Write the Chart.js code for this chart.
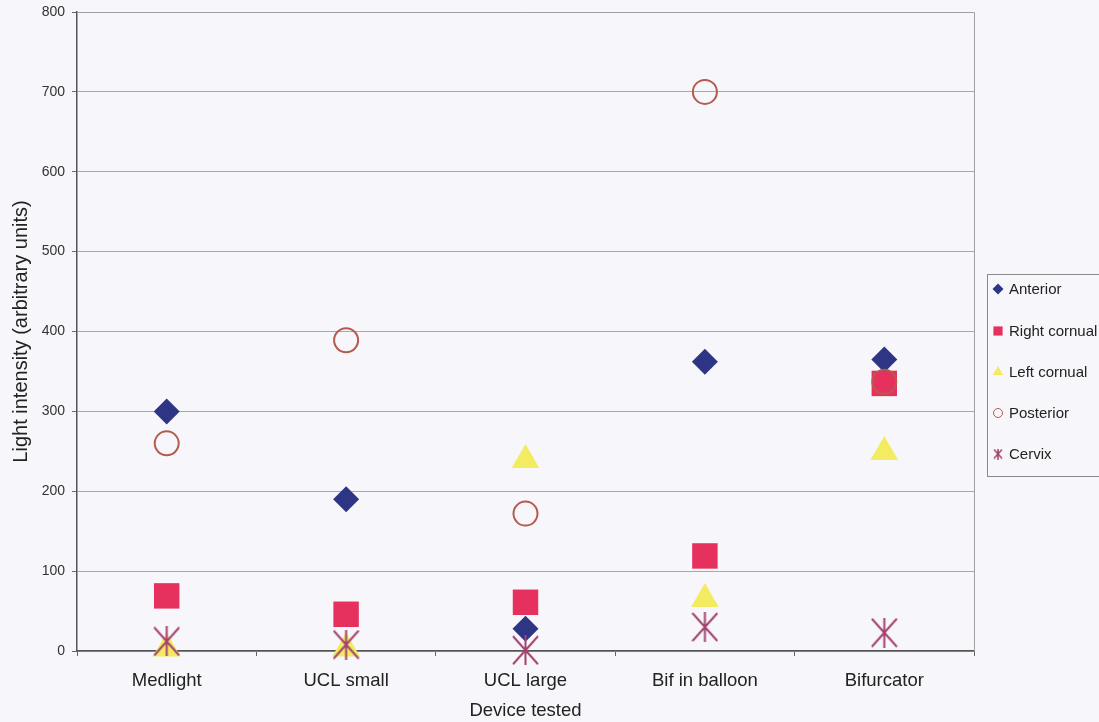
<!DOCTYPE html>
<html>
<head>
<meta charset="utf-8">
<script src="https://cdn.jsdelivr.net/npm/chart.js@4"></script>
<style>
  html, body { margin: 0; padding: 0; background: #f7f7fb; }
  #wrap { width: 1099px; height: 722px; position: relative; }
</style>
</head>
<body>
<div id="wrap"><canvas id="lightChart"></canvas></div>
<script>
// Data
const devices = ['Medlight', 'UCL small', 'UCL large', 'Bif in balloon', 'Bifurcator'];
const anterior = [300, 190, 28, 362, 365];
const rightCornual = [69, 46, 61, 119, 335];
const leftCornual = [3, 3, 239, 65, 249];
const posterior = [260, 389, 172, 700, 337];
const cervix = [12, 8, 1, 30, 23];
const yTicks = [0, 100, 200, 300, 400, 500, 600, 700, 800];

const FONT = '"Liberation Sans", Arial, sans-serif';

// asterisk marker (X with a vertical bar), like the Excel one
function makeAsterisk(w, h, color, lw) {
    const c = document.createElement('canvas');
    c.width = w; c.height = h;
    const g = c.getContext('2d');
    g.strokeStyle = color;
    g.lineWidth = lw;
    g.beginPath();
    g.moveTo(1, 1); g.lineTo(w - 1, h - 1);
    g.moveTo(w - 1, 1); g.lineTo(1, h - 1);
    g.moveTo(w / 2, 0); g.lineTo(w / 2, h);
    g.stroke();
    return c;
}
const cervixColor = '#a3416f';
const starBig = makeAsterisk(27, 30, cervixColor, 2);
const starSmall = makeAsterisk(10, 11, cervixColor, 1.5);

// Legend drawn in a box to the right, Excel style
const boxLegend = {
    id: 'boxLegend',
    afterDraw(chart) {
        const ctx = chart.ctx;
        const x0 = 987, y0 = 274, w = 130, h = 202;
        ctx.save();
        ctx.strokeStyle = '#8a8a8a';
        ctx.lineWidth = 1;
        ctx.strokeRect(x0 + 0.5, y0 + 0.5, w, h);
        ctx.font = '15px ' + FONT;
        ctx.textBaseline = 'middle';
        const rows = [289, 331, 372, 413, 454];
        chart.data.datasets.forEach((ds, i) => {
            const y = rows[i];
            ctx.fillStyle = ds.backgroundColor;
            ctx.strokeStyle = ds.borderColor;
            const style = ds.label === 'Cervix' ? starSmall : ds.pointStyle;
            Chart.helpers.drawPoint(ctx, {
                pointStyle: style,
                rotation: 0,
                radius: ds.legendRadius,
                borderWidth: ds.label === 'Posterior' ? 1.5 : 0
            }, 998, y);
            ctx.fillStyle = '#222';
            ctx.fillText(ds.label, 1009, y + 1);
        });
        ctx.restore();
    }
};

// plot frame (top and right edges in light gray)
const plotFrame = {
    id: 'plotFrame',
    beforeDatasetsDraw(chart) {
        const a = chart.chartArea;
        const ctx = chart.ctx;
        ctx.save();
        ctx.strokeStyle = '#a0a0a0';
        ctx.lineWidth = 1;
        ctx.beginPath();
        ctx.moveTo(a.left, a.top + 0.5);
        ctx.lineTo(a.right + 0.5, a.top + 0.5);
        ctx.lineTo(a.right + 0.5, a.bottom);
        ctx.stroke();
        ctx.restore();
    }
};

const ctx = document.getElementById('lightChart').getContext('2d');
const lightChart = new Chart(ctx, {
    type: 'line',
    data: {
        labels: devices,
        datasets: [
            {
                label: 'Anterior',
                data: anterior,
                pointStyle: 'rectRot',
                pointRadius: 13,
                legendRadius: 5.5,
                backgroundColor: '#2f3585',
                borderColor: '#2f3585',
                pointBorderWidth: 0,
                order: 5
            },
            {
                label: 'Right cornual',
                data: rightCornual,
                pointStyle: 'rect',
                pointRadius: 18,
                legendRadius: 6.5,
                backgroundColor: '#e6315f',
                borderColor: '#e6315f',
                pointBorderWidth: 0,
                order: 4
            },
            {
                label: 'Left cornual',
                data: leftCornual,
                pointStyle: 'triangle',
                pointRadius: 16,
                legendRadius: 6,
                backgroundColor: '#f3eb62',
                borderColor: '#f3eb62',
                pointBorderWidth: 0,
                order: 3
            },
            {
                label: 'Posterior',
                data: posterior,
                pointStyle: 'circle',
                pointRadius: 12,
                legendRadius: 4.5,
                backgroundColor: 'rgba(0,0,0,0)',
                borderColor: '#b55a4c',
                pointBorderWidth: 2,
                order: 2
            },
            {
                label: 'Cervix',
                data: cervix,
                pointStyle: starBig,
                pointRadius: 14,
                legendRadius: 5,
                backgroundColor: cervixColor,
                borderColor: cervixColor,
                pointBorderWidth: 0,
                order: 1
            }
        ].map(ds => Object.assign(ds, {
            showLine: false,
            clip: false,
            pointHoverRadius: ds.pointRadius,
            pointBackgroundColor: ds.backgroundColor,
            pointBorderColor: ds.borderColor
        }))
    },
    options: {
        responsive: true,
        maintainAspectRatio: false,
        animation: false,
        layout: {
            autoPadding: false,
            padding: { left: 9, top: 12, right: 125, bottom: 0 }
        },
        plugins: {
            legend: { display: false },
            tooltip: { enabled: false }
        },
        scales: {
            x: {
                offset: true,
                grid: {
                    offset: true,
                    drawOnChartArea: false,
                    color: '#666',
                    tickLength: 5
                },
                border: { color: '#555', width: 1.5 },
                ticks: {
                    color: '#222',
                    padding: 14,
                    font: { family: FONT, size: 18.5 }
                },
                title: {
                    display: true,
                    text: 'Device tested',
                    color: '#222',
                    padding: { top: 4, bottom: 0 },
                    font: { family: FONT, size: 18.5 }
                },
                afterFit: (scale) => {
                    scale.height = 71;
                    scale.paddingLeft = 0;
                    scale.paddingRight = 0;
                }
            },
            y: {
                min: 0,
                max: 800,
                afterBuildTicks: (scale) => { scale.ticks = yTicks.map(v => ({ value: v })); },
                grid: {
                    color: '#a8a8a8',
                    tickLength: 5,
                    tickColor: '#666'
                },
                border: { color: '#555', width: 1.5 },
                ticks: {
                    color: '#333',
                    padding: 7,
                    font: { family: FONT, size: 14 }
                },
                title: {
                    display: true,
                    text: 'Light intensity (arbitrary units)',
                    color: '#222',
                    padding: { top: 0, bottom: 6 },
                    font: { family: FONT, size: 20 }
                },
                afterFit: (scale) => {
                    scale.width = 68;
                    scale.paddingTop = 0;
                    scale.paddingBottom = 0;
                }
            }
        }
    },
    plugins: [plotFrame, boxLegend]
});
</script>
</body>
</html>
